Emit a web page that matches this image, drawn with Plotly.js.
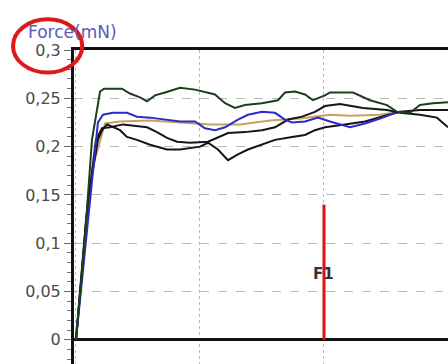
<!DOCTYPE html>
<html>
<head>
<meta charset="utf-8">
<script src="https://cdn.plot.ly/plotly-3.0.1.min.js"></script>
<style>html,body{margin:0;padding:0;background:#fff}#chart{width:448px;height:364px}</style>
</head>
<body>
<div id="chart"></div>
<script>
// Time (arbitrary units) and force (mN) for each curve
const xA = [0,0.65,1.29,1.94,2.26,3.71,4.35,5.16,5.73,6.37,7.18,8.39,9.60,10.16,11.21,12.02,12.82,13.63,15.00,16.29,16.85,17.66,18.47,19.11,20.08,20.48,22.34,23.71,25.08,25.89,26.94,27.74,28.79,30.0];
const yA = [0,0.093,0.207,0.257,0.260,0.260,0.255,0.251,0.247,0.253,0.256,0.261,0.259,0.257,0.254,0.245,0.240,0.243,0.245,0.248,0.256,0.257,0.254,0.248,0.253,0.256,0.256,0.248,0.243,0.236,0.235,0.243,0.245,0.246];

const xB = [0,1.13,1.77,2.18,2.98,4.11,4.92,5.97,7.02,8.39,9.60,10.40,11.21,12.02,13.06,13.87,15.00,16.05,16.85,17.42,18.47,19.52,20.48,22.10,23.31,24.76,25.73];
const yB = [0,0.145,0.225,0.233,0.235,0.235,0.231,0.230,0.228,0.226,0.226,0.219,0.217,0.220,0.228,0.233,0.236,0.235,0.228,0.225,0.226,0.230,0.226,0.220,0.224,0.230,0.235];

const xC = [0,1.29,2.34,3.55,5.97,8.39,10.81,13.23,15.65,18.06,20.48,22.10,24.52,26.13];
const yC = [0,0.176,0.224,0.226,0.227,0.225,0.223,0.223,0.227,0.229,0.233,0.232,0.233,0.236];

const xD = [0,0.81,1.61,2.10,2.74,3.79,5.73,6.53,7.34,8.15,9.19,10.65,12.26,13.63,15.00,16.05,17.10,18.23,19.27,20.08,21.29,23.15,25.08,26.13,27.74,29.11,30.0];
const yD = [0,0.124,0.207,0.219,0.220,0.223,0.220,0.215,0.209,0.205,0.204,0.205,0.214,0.215,0.217,0.220,0.228,0.231,0.236,0.242,0.244,0.240,0.238,0.235,0.233,0.230,0.220];

const xE = [0,0.97,1.77,2.10,2.50,3.55,4.11,4.92,5.97,7.34,8.39,10.00,10.65,11.45,12.26,13.06,13.87,15.00,16.05,17.42,18.47,19.27,20.08,21.69,23.31,24.92,26.13,27.74,30.0];
const yE = [0,0.145,0.207,0.217,0.223,0.217,0.210,0.207,0.202,0.197,0.197,0.200,0.204,0.197,0.186,0.192,0.197,0.202,0.207,0.210,0.212,0.217,0.220,0.223,0.226,0.232,0.236,0.238,0.238];

const markerX = [20, 20];
const markerY = [0, 0.14];
const markerLabel = "F1";
const yTickVals = [0, 0.05, 0.1, 0.15, 0.2, 0.25, 0.3];

const traces = [
  {x: xC, y: yC, mode: 'lines', line: {color: '#c9a25a', width: 2}},
  {x: xE, y: yE, mode: 'lines', line: {color: '#151515', width: 2}},
  {x: xD, y: yD, mode: 'lines', line: {color: '#151515', width: 2}},
  {x: xB, y: yB, mode: 'lines', line: {color: '#2b2bc8', width: 2}},
  {x: xA, y: yA, mode: 'lines', line: {color: '#1d3f1d', width: 2}},
  {x: markerX, y: markerY, mode: 'lines', line: {color: '#e01010', width: 3}}
];

const layout = {
  width: 448, height: 364,
  margin: {l: 74, r: 0, t: 50, b: 0, pad: 0},
  paper_bgcolor: '#ffffff', plot_bgcolor: '#ffffff',
  showlegend: false,
  separators: ', ',
  font: {family: 'DejaVu Sans, Arial, sans-serif', size: 16, color: '#444'},
  xaxis: {
    range: [-0.16, 30], side: 'top', showline: true, linecolor: '#111', linewidth: 3,
    showticklabels: false, ticks: '', dtick: 10, tick0: 0,
    showgrid: true, gridcolor: '#bbbbbb', griddash: 'dot', gridwidth: 1, zeroline: false
  },
  yaxis: {
    range: [-0.025, 0.3], tickvals: yTickVals, ticks: 'outside', ticklen: 7, tickcolor: '#666', tickwidth: 1,
    showline: true, linecolor: '#111', linewidth: 3,
    showgrid: true, gridcolor: '#b8b8b8', griddash: 'dash', gridwidth: 1,
    zeroline: true, zerolinecolor: '#111', zerolinewidth: 3,
    tickfont: {family: 'DejaVu Sans, sans-serif', size: 16, color: '#4a4a4a'},
    minor: {dtick: 0.01, ticks: 'outside', ticklen: 4, tickcolor: '#777', showgrid: false}
  },
  annotations: [
    {text: 'Force(mN)', xref: 'paper', yref: 'paper', x: -0.128, y: 1.057, xanchor: 'left', yanchor: 'middle',
     showarrow: false, font: {family: 'DejaVu Sans, sans-serif', size: 17, color: '#5a5ab8'}},
    {text: '<b>' + markerLabel + '</b>', xref: 'x', yref: 'y', x: markerX[0], y: 0.068, xanchor: 'center', yanchor: 'middle',
     showarrow: false, font: {family: 'DejaVu Sans, sans-serif', size: 15, color: '#333'}}
  ],
  shapes: [
    {type: 'circle', xref: 'paper', yref: 'paper', x0: -0.163, x1: 0.022, y0: 0.928, y1: 1.098,
     line: {color: '#e01818', width: 4}, fillcolor: 'rgba(0,0,0,0)'}
  ]
};

Plotly.newPlot('chart', traces, layout, {staticPlot: true, displayModeBar: false});
</script>
</body>
</html>
